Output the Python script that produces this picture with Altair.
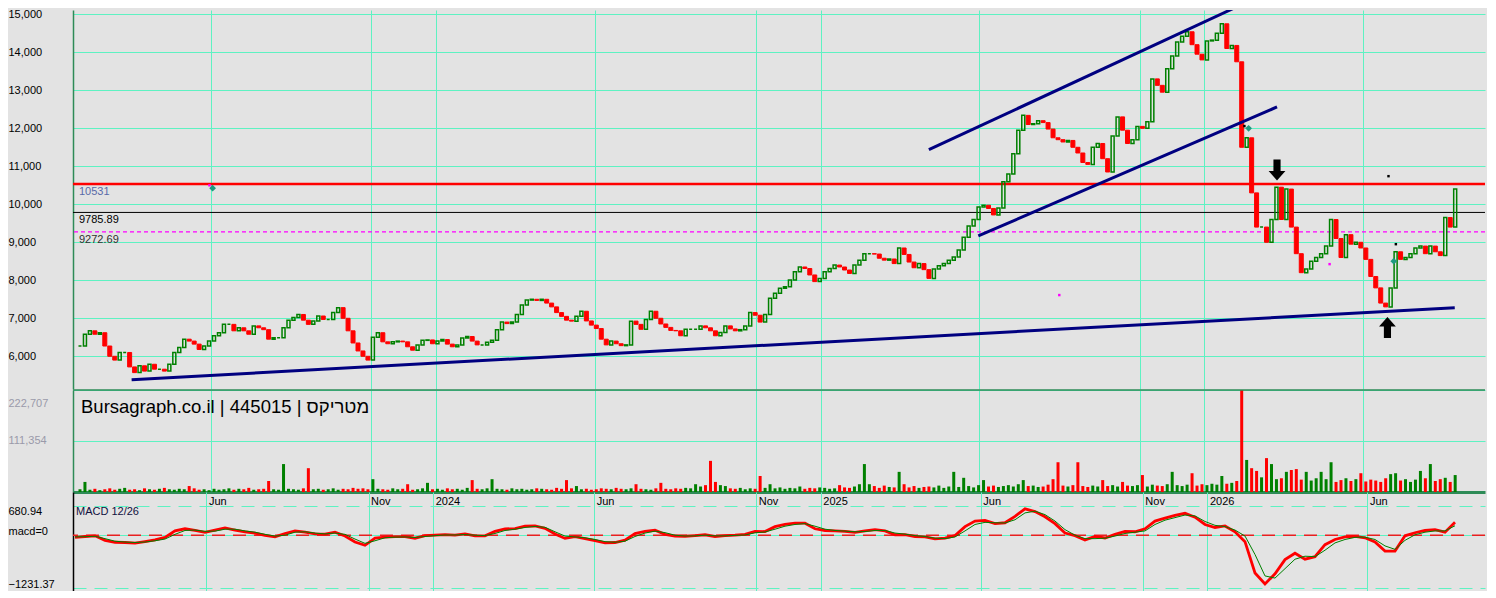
import altair as alt
import numpy as np
import pandas as pd

FONT = "Liberation Sans"
BG = "#e3e3e3"
AQUA = "#5ef2c2"
DKGREEN = "#2e8b57"
UP = "#008000"
DOWN = "#ff0000"
NAVY = "#000080"

PLOT_W = 1412
X_START, X_END = "2023-01-26", "2026-09-20"
GRID_DATES = ["2023-06-01", "2023-11-01", "2024-01-01", "2024-06-01", "2024-11-01",
              "2025-01-01", "2025-06-01", "2025-11-01", "2026-01-01", "2026-06-01"]

PRICE_TICKS = [6000, 7000, 8000, 9000, 10000, 11000, 12000, 13000, 14000, 15000]
VOLUME_TICKS = [111354, 222707]
MACD_TICKS = [680.94, 0, -1231.37]

CLOSE = [
    6270, 6580, 6670, 6580, 6620, 6270, 6000, 5900, 6100, 6100,
    5720, 5570, 5750, 5610, 5790, 5660, 5660, 5610, 5790, 6100,
    6230, 6450, 6400, 6320, 6180, 6270, 6400, 6540, 6620, 6840,
    6840, 6670, 6750, 6670, 6580, 6800, 6750, 6700, 6450, 6490,
    6490, 6750, 6950, 7020, 7100, 6950, 6840, 6930, 7060, 6970,
    6970, 7150, 7280, 7000, 6670, 6350, 6140, 6000, 5900, 6500,
    6620, 6380, 6330, 6380, 6400, 6380, 6250, 6160, 6300, 6420,
    6430, 6330, 6400, 6440, 6320, 6250, 6300, 6480, 6520, 6400,
    6300, 6300, 6370, 6420, 6700, 6900, 6860, 6900, 7100, 7350,
    7480, 7500, 7470, 7500, 7400, 7300, 7150, 7050, 6950,
    6925,
    7055, 7185, 6930, 6820, 6730, 6450, 6300, 6400, 6330, 6280,
    6300, 6925, 6840, 6710, 6970, 7185, 7000, 6850, 6760, 6680,
    6670, 6540, 6710, 6710, 6710, 6800, 6750, 6670, 6540, 6625,
    6800, 6720, 6670, 6700, 6800, 7150, 7080, 6900, 7100, 7530,
    7660, 7790, 7830, 8010, 8225, 8350, 8310, 8140, 7965, 8050,
    8225, 8310, 8400, 8350, 8270, 8180, 8400, 8530, 8700, 8700,
    8690, 8580, 8530, 8560, 8440, 8850, 8680, 8480, 8330, 8440,
    8280, 8050, 8300, 8380, 8440, 8530, 8610, 8800, 9130, 9430,
    9600, 9930, 9975, 9890, 9720, 9900, 10590, 10800, 11330, 11950,
    12340, 12100, 12120, 12200, 12150, 11980, 11750, 11700, 11640, 11680,
    11500, 11350, 11100, 11050, 11500, 11600, 11200, 10850, 11800, 12300,
    11950, 11600, 11700, 12050, 12000, 12170,
    13300, 13130, 12950, 13570,
    13900, 14270, 14420, 14540, 14200, 13950, 13800, 14300, 14320, 14500,
    14750, 14100, 14180, 13750,
    11500, 11750, 10300, 9400, 9400, 9000,
    9600, 10450, 9600, 10400, 9400, 8700, 8200, 8300, 8500, 8600,
    8700, 8900, 9600, 9100, 8600, 9200, 8950, 9000, 8850, 8550,
    8100, 7800, 7400, 7300, 7800, 8750, 8550, 8600, 8700, 8850,
    8900, 8700, 8900, 8750, 8650, 9650, 9400, 10400,
]

VOLUME = [
    6000, 22000, 5000, 7000, 4000, 6000, 8000, 5000, 7000, 9000,
    5000, 6000, 4000, 8000, 6000, 5000, 7000, 9000, 6000, 5000,
    7000, 6000, 13000, 8000, 5000, 6000, 4000, 7000, 5000, 6000,
    8000, 5000, 7000, 6000, 9000, 5000, 6000, 7000, 24000, 6000,
    5000, 61000, 7000, 6000, 5000, 8000, 52000, 6000, 7000, 5000,
    6000, 8000, 5000, 7000, 6000, 9000, 7000, 8000, 6000, 28000,
    7000, 6000, 5000, 8000, 6000, 7000, 17000, 5000, 6000, 8000,
    20000, 6000, 7000, 5000, 8000, 6000, 7000, 5000, 9000, 26000,
    7000, 6000, 8000, 28000, 7000, 6000, 5000, 8000, 6000, 7000,
    5000, 6000, 8000, 7000, 6000, 5000, 9000, 7000, 26000, 8000,
    13000, 6000, 7000, 5000, 6000, 8000, 7000, 6000, 9000, 7000,
    6000, 8000, 17000, 7000, 6000, 5000, 8000, 20000, 7000, 6000,
    8000, 7000, 9000, 8000, 17000, 12000, 15000, 68000, 22000, 15000,
    13000, 8000, 7000, 9000, 6000, 8000, 7000, 35000, 9000, 17000,
    8000, 10000, 7000, 9000, 8000, 12000, 7000, 9000, 8000, 10000,
    9000, 7000, 8000, 15000, 10000, 9000, 12000, 17000, 61000, 17000,
    13000, 9000, 14000, 11000, 10000, 44000, 17000, 10000, 13000, 9000,
    11000, 12000, 10000, 14000, 9000, 12000, 44000, 11000, 31000, 13000,
    10000, 15000, 26000, 12000, 14000, 11000, 13000, 15000, 12000, 17000,
    26000, 13000, 14000, 11000, 12000, 16000, 28000, 65000, 14000, 12000,
    15000, 65000, 13000, 11000, 14000, 12000, 26000, 13000, 15000, 12000,
    22000, 14000, 13000, 15000, 37000, 12000, 16000, 14000, 13000, 17000,
    44000, 15000, 13000, 16000, 41000, 14000, 17000, 15000, 18000, 16000,
    35000, 18000, 20000, 24000, 222707, 70000, 52000, 46000, 32000, 74000,
    61000, 28000, 30000, 44000, 48000, 50000, 27000, 44000, 25000, 30000,
    44000, 28000, 65000, 22000, 26000, 30000, 24000, 28000, 41000, 23000,
    27000, 25000, 22000, 30000, 39000, 41000, 25000, 28000, 22000, 27000,
    46000, 30000, 61000, 24000, 28000, 31000, 22000, 37000,
]

MACD = [
    -50, -30, -15, -120, -165, -170, -185, -150, -110, -50,
    100, 150, 110, 65, 120, 170, 120, 75, 50, -5,
    -40, 40, 100, 70, 30, 25, 70, -20, -160, -235,
    -70, -45, -35, -35, -70, -10, 0, 15, 0, 30,
    -15, -15, 90, 145, 155, 210, 215, 160, 30, -75,
    -35, -80, -125, -180, -170, -115, 40, 90, 115, 20,
    -20, -25, -10, 10, -30, -10, 0, 20, 90, 85,
    200, 250, 280, 280, 150, 110, 100, 90, 65, 100,
    130, 100, 10, 15, -30, -40, -86, -70, -10, 200,
    330, 344, 270, 290, 440, 615, 550, 430, 270, 50,
    -10, -110, -30, -64, 20, 90, 80, 150, 330, 400,
    460, 510, 420, 250, 180, 215, 80, -150, -880, -1138,
    -900, -570, -420, -560, -500, -220, -100, -40, -30, -60,
    -158, -372, -370, -14, 57, 110, 128, 70, 300,
]

SIGNAL = [
    -40, -35, -25, -80, -140, -160, -170, -160, -130, -90,
    20, 110, 120, 90, 95, 140, 140, 100, 70, 20,
    -20, 0, 70, 80, 50, 30, 50, 20, -90, -190,
    -130, -60, -45, -40, -55, -30, -10, 5, 5, 15,
    0, -10, 40, 110, 140, 180, 205, 185, 80, -20,
    -40, -60, -100, -150, -165, -140, -30, 50, 95, 60,
    0, -20, -15, 0, -15, -15, -5, 5, 55, 75,
    140, 210, 250, 270, 210, 140, 110, 95, 80, 85,
    110, 110, 50, 25, -10, -30, -70, -80, -40, 100,
    250, 300, 290, 285, 360, 520, 560, 480, 330, 130,
    0, -80, -80, -70, -20, 40, 70, 100, 250, 350,
    410, 470, 450, 320, 230, 200, 120, -20, -450, -950,
    -1000, -780, -560, -490, -500, -350, -180, -100, -50, -45,
    -100, -250, -330, -120, 10, 70, 100, 100, 220,
]

LEVELS = [10531, 9785.89, 9272.69]
LEVEL_TEXT = ["10531", "9785.89", "9272.69"]
LEVEL_TEXT_COLOR = ["#5a6aa8", "#000000", "#303030"]

TREND_START = ["2023-03-18", "2025-04-14", "2025-05-31"]
TREND_START_PRICE = [5384, 11437, 9166]
TREND_END = ["2026-08-27", "2026-01-28", "2026-03-11"]
TREND_END_PRICE = [7279, 15147, 12561]

ARROW_DATES = ["2026-03-11", "2026-06-24"]
ARROW_PRICES = [10903, 6758]
ARROW_DIR = ["down", "up"]

MARK_DATES = ["2023-06-03", "2026-02-12", "2026-06-30"]
MARK_PRICES = [10424, 12000, 8503]

DOT_DATES = ["2023-05-31", "2026-02-08", "2026-06-25", "2026-07-02", "2026-04-30", "2025-08-16"]
DOT_PRICES = [10500, 12058, 10740, 8950, 8425, 7611]
DOT_COLORS = ["#ff00ff", "#000000", "#000000", "#000000", "#ff00ff", "#ff00ff"]

TITLE = "Bursagraph.co.il | 445015 | מטריקס"


def to_ms(d):
    return int(pd.Timestamp(d, tz="UTC").value // 10**6)


MS0, MS1 = to_ms(X_START), to_ms(X_END)
GRID_MS = [to_ms(d) for d in GRID_DATES]

# candles were read every 5 px of the time axis, the MACD every 10 px
cand_ms = np.interp(2 + 5 * np.arange(len(CLOSE)), [0, PLOT_W], [MS0, MS1])
macd_ms = np.interp(2 + 10 * np.arange(len(MACD)), [0, PLOT_W], [MS0, MS1])

opens = [CLOSE[0]] + CLOSE[:-1]
cdf = pd.DataFrame({
    "date": cand_ms,
    "open": opens,
    "close": CLOSE,
    "vol": VOLUME,
    "dir": ["up" if c >= o else "down" for o, c in zip(opens, CLOSE)],
})
mdf = pd.DataFrame({"date": macd_ms, "macd": MACD, "signal": SIGNAL})

xscale = alt.Scale(type="utc", domain=[MS0, MS1], nice=False)
LABEL_EXPR = "utcFormat(datum.value, '%m') == '01' ? utcFormat(datum.value, '%Y') : utcFormat(datum.value, '%b')"

# ---------------- price panel ----------------
yprice = alt.Scale(domain=[5139, 15113], nice=False, zero=False)
ax_x_price = alt.Axis(values=GRID_MS, grid=True, gridColor=AQUA, gridWidth=1, labels=False,
                      ticks=False, domain=False, title=None)
ax_y_price = alt.Axis(values=PRICE_TICKS, format=",d", grid=True, gridColor=AQUA, ticks=False,
                      labelAlign="left", labelBaseline="middle", labelPadding=65,
                      labelColor="#000000", domain=True, domainColor=DKGREEN, domainWidth=1.5,
                      title=None, labelOverlap=False)


def XP(f):
    return alt.X(f, scale=xscale, axis=ax_x_price)


def YP(f):
    return alt.Y(f, scale=yprice, axis=ax_y_price)


up_c = alt.Chart(cdf).transform_filter("datum.dir == 'up'").mark_bar(
    size=3, fillOpacity=0, stroke=UP, strokeWidth=1.5
).encode(x=XP("date:T"), y=YP("open:Q"), y2="close:Q")

down_c = alt.Chart(cdf).transform_filter("datum.dir == 'down'").mark_bar(
    size=4, color=DOWN, stroke=DOWN, strokeWidth=1
).encode(x=XP("date:T"), y=YP("open:Q"), y2="close:Q")

red_level = alt.Chart(pd.DataFrame({"p": [LEVELS[0]]})).mark_rule(
    color=DOWN, strokeWidth=2.5).encode(y=YP("p:Q"))
black_level = alt.Chart(pd.DataFrame({"p": [LEVELS[1]]})).mark_rule(
    color="#000000", strokeWidth=1).encode(y=YP("p:Q"))
mag_level = alt.Chart(pd.DataFrame({"p": [LEVELS[2]]})).mark_rule(
    color="#ff00ff", strokeWidth=1.2, strokeDash=[4, 3]).encode(y=YP("p:Q"))

ldf = pd.DataFrame({"date": [MS0] * 3, "p": LEVELS, "t": LEVEL_TEXT, "c": LEVEL_TEXT_COLOR})
level_text = alt.Chart(ldf).mark_text(
    align="left", baseline="top", dx=1, dy=2, font=FONT, fontSize=11
).encode(x=XP("date:T"), y=YP("p:Q"), text="t:N", color=alt.Color("c:N", scale=None))

tdf = pd.DataFrame({
    "d1": [to_ms(d) for d in TREND_START], "p1": TREND_START_PRICE,
    "d2": [to_ms(d) for d in TREND_END], "p2": TREND_END_PRICE,
})
trend = alt.Chart(tdf).mark_rule(color=NAVY, strokeWidth=3, clip=True).encode(
    x=XP("d1:T"), x2="d2:T", y=YP("p1:Q"), y2="p2:Q")

DOWN_PATH = "M-0.34,-1L0.34,-1L0.34,0.1L0.8,0.1L0,1L-0.8,0.1L-0.34,0.1Z"
UP_PATH = "M-0.34,1L0.34,1L0.34,-0.1L0.8,-0.1L0,-1L-0.8,-0.1L-0.34,-0.1Z"
adf = pd.DataFrame({"date": [to_ms(d) for d in ARROW_DATES], "p": ARROW_PRICES, "dir": ARROW_DIR})
arrows = alt.Chart(adf).mark_point(filled=True, size=441, opacity=1, strokeWidth=0).encode(
    x=XP("date:T"), y=YP("p:Q"),
    shape=alt.Shape("dir:N", scale=alt.Scale(domain=["down", "up"], range=[DOWN_PATH, UP_PATH]), legend=None),
    color=alt.value("#000000"))

kdf = pd.DataFrame({"date": [to_ms(d) for d in MARK_DATES], "p": MARK_PRICES})
diamonds = alt.Chart(kdf).mark_point(shape="diamond", filled=True, size=45, opacity=1,
                                     color="#1f9a80").encode(x=XP("date:T"), y=YP("p:Q"))

ddf = pd.DataFrame({"date": [to_ms(d) for d in DOT_DATES], "p": DOT_PRICES, "c": DOT_COLORS})
dots = alt.Chart(ddf).mark_point(shape="square", filled=True, size=6, opacity=1).encode(
    x=XP("date:T"), y=YP("p:Q"), color=alt.Color("c:N", scale=None))

price = alt.layer(red_level, black_level, mag_level, down_c, up_c, trend, arrows, diamonds,
                  dots, level_text).properties(width=PLOT_W, height=379)

# ---------------- volume panel ----------------
yvol = alt.Scale(domain=[0, 222707], nice=False, zero=True)
ax_y_vol = alt.Axis(values=VOLUME_TICKS, format=",d", grid=True, gridColor=AQUA, ticks=False,
                    labelAlign="left", labelBaseline="middle", labelPadding=65,
                    labelColor="#9a9aaa",
                    labelOffset={"condition": {"test": "datum.value > 200000", "value": 13}, "value": 0},
                    domain=True, domainColor=DKGREEN, domainWidth=1.5, title=None,
                    labelOverlap=False)
ax_x_vol = alt.Axis(values=GRID_MS, grid=True, gridColor=AQUA, labels=False, ticks=False,
                    domain=True, domainColor=DKGREEN, domainWidth=3, title=None)


def XV(f):
    return alt.X(f, scale=xscale, axis=ax_x_vol)


def YV(f):
    return alt.Y(f, scale=yvol, axis=ax_y_vol)


vol_bars = alt.Chart(cdf).mark_bar(size=3).encode(
    x=XV("date:T"), y=YV("vol:Q"),
    color=alt.Color("dir:N", scale=alt.Scale(domain=["up", "down"], range=[UP, DOWN]), legend=None))
vol_top = alt.Chart(pd.DataFrame({"v": [222707]})).mark_rule(
    color=DKGREEN, strokeWidth=1.5).encode(y=YV("v:Q"))
title_df = pd.DataFrame({"date": [MS0], "v": [185600], "t": [TITLE]})
title_text = alt.Chart(title_df).mark_text(
    align="left", baseline="middle", dx=3, font=FONT, fontSize=18.5, color="#000000"
).encode(x=XV("date:T"), y=YV("v:Q"), text="t:N")

volume = alt.layer(vol_bars, vol_top, title_text).properties(width=PLOT_W, height=102)

# ---------------- MACD panel ----------------
ymacd = alt.Scale(domain=[-1301.3, 1007.4], nice=False, zero=False)
ax_y_macd = alt.Axis(values=MACD_TICKS,
                     labelExpr="datum.value == 0 ? 'macd=0' : format(datum.value, '.2f')",
                     grid=True, gridColor=AQUA, gridDash=[13, 8], ticks=False,
                     labelAlign="left", labelBaseline="middle",
                     labelPadding=65, labelColor="#000000",
                     labelOffset={"condition": {"test": "datum.value > 100", "value": 6}, "value": -4},
                     domain=True, domainColor="#000000", domainWidth=1.5, title=None,
                     labelOverlap=False)
ax_x_macd = alt.Axis(orient="top", values=GRID_MS, grid=True, gridColor=AQUA, labels=True,
                     labelExpr=LABEL_EXPR, labelAlign="left", labelOffset=2, labelPadding=-14,
                     labelBaseline="bottom", labelColor="#000000", ticks=False, domain=False,
                     title=None, labelOverlap=False, labelFlush=False)


def XM(f):
    return alt.X(f, scale=xscale, axis=ax_x_macd)


def YM(f):
    return alt.Y(f, scale=ymacd, axis=ax_y_macd)


zero_line = alt.Chart(pd.DataFrame({"v": [0]})).mark_rule(
    color="#e82020", strokeWidth=1.5, strokeDash=[13, 8]).encode(y=YM("v:Q"))
macd_line = alt.Chart(mdf).mark_line(color=DOWN, strokeWidth=2.8).encode(x=XM("date:T"), y=YM("macd:Q"))
signal_line = alt.Chart(mdf).mark_line(color=UP, strokeWidth=1).encode(x=XM("date:T"), y=YM("signal:Q"))
macd_lab = alt.Chart(pd.DataFrame({"date": [MS0], "v": [541], "t": ["MACD 12/26"]})).mark_text(
    align="left", baseline="middle", dx=3, font=FONT, fontSize=11, color="#101040"
).encode(x=XM("date:T"), y=YM("v:Q"), text="t:N")

macd = alt.layer(zero_line, macd_line, signal_line, macd_lab).properties(width=PLOT_W, height=99)

chart = alt.vconcat(price, volume, macd, spacing=0).properties(
    padding=0, background=BG
).configure_view(stroke=None).configure_axis(labelFont=FONT, labelFontSize=11)

chart.save("out.html", embed_options={"renderer": "svg", "actions": False})
